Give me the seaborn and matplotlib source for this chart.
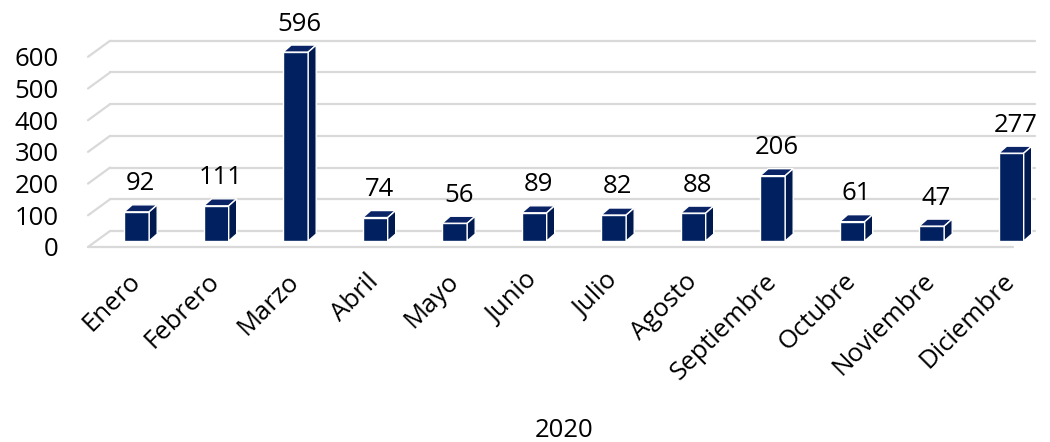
import matplotlib
matplotlib.use("Agg")
import matplotlib.pyplot as plt
from matplotlib.patches import Polygon
import seaborn as sns
import pandas as pd

months = ["Enero", "Febrero", "Marzo", "Abril", "Mayo", "Junio", "Julio",
          "Agosto", "Septiembre", "Octubre", "Noviembre", "Diciembre"]
values = [92, 111, 596, 74, 56, 89, 82, 88, 206, 61, 47, 277]
yticks = [0, 100, 200, 300, 400, 500, 600]
xlabel = "2020"

sns.set_theme(style="white")
plt.rcParams['font.family'] = ['Open Sans', 'DejaVu Sans']
plt.rcParams['text.color'] = 'black'
plt.rcParams['xtick.color'] = 'black'
plt.rcParams['ytick.color'] = 'black'
plt.rcParams['axes.labelcolor'] = 'black'

W, H = 1050, 442
fig = plt.figure(figsize=(W / 100, H / 100), dpi=100)

px_left, px_right = 88, 1040
px_top, px_bottom = 20, 247
ax = fig.add_axes([px_left / W, 1 - px_bottom / H,
                   (px_right - px_left) / W, (px_bottom - px_top) / H])

c0, step = 136.7, 79.5
ppu = 0.317
base_px = 241
xmin = (px_left - c0) / step
xmax = (px_right - c0) / step
ymin = -(px_bottom - base_px) / ppu
ymax = (base_px - px_top) / ppu

front_dy = -6 / ppu
back_dy = 10 / ppu
back_x0 = (110 - c0) / step
back_x1 = (1035 - c0) / step

grid_col = "#d9d9d9"
for t in yticks:
    ax.plot([back_x0, back_x1], [t + back_dy, t + back_dy], color=grid_col,
            lw=1.6, zorder=0, clip_on=False)
    ax.plot([xmin, back_x0], [t + front_dy, t + back_dy], color=grid_col,
            lw=1.6, zorder=0, clip_on=False)
ax.plot([xmin, back_x1 - (22 / step)], [front_dy, front_dy], color=grid_col,
        lw=1.6, zorder=0, clip_on=False)

df = pd.DataFrame({"mes": months, "casos": values})
bw = 25 / step
sns.barplot(data=df, x="mes", y="casos", ax=ax, color="#002060",
            saturation=1, width=bw, edgecolor="white", linewidth=1.0, zorder=3)
ax.set_xlim(xmin, xmax)
ax.set_ylim(ymin, ymax)

ddx = 8 / step
ddy = 7 / ppu
for p in list(ax.patches):
    x0 = p.get_x()
    x1 = x0 + p.get_width()
    h = p.get_height()
    top = Polygon([(x0, h), (x1, h), (x1 + ddx, h + ddy), (x0 + ddx, h + ddy)],
                  closed=True, facecolor="#0a2466", edgecolor="white", lw=1.0, zorder=3)
    side = Polygon([(x1, 0), (x1, h), (x1 + ddx, h + ddy), (x1 + ddx, ddy)],
                   closed=True, facecolor="#001a4f", edgecolor="white", lw=1.0, zorder=3)
    ax.add_patch(top)
    ax.add_patch(side)
    ax.text(p.get_x() + p.get_width() / 2 + ddx / 2, h + ddy + 27, f"{int(h)}",
            ha="center", va="bottom", fontsize=18.5, color="black", zorder=4)

ax.set_yticks([t + front_dy for t in yticks])
ax.set_yticklabels([str(t) for t in yticks], fontsize=18.5)
ax.set_xticks(range(len(months)))
ax.set_xticklabels(months, rotation=45, ha="right", va="center",
                   rotation_mode="anchor", fontsize=18.5)
ax.tick_params(axis="both", length=0)
ax.tick_params(axis="x", pad=22)
ax.tick_params(axis="y", pad=21)
ax.set_xlabel(xlabel, fontsize=18.5, labelpad=24)
ax.set_ylabel("")
for s in ax.spines.values():
    s.set_visible(False)

fig.savefig("out.png", dpi=100)
